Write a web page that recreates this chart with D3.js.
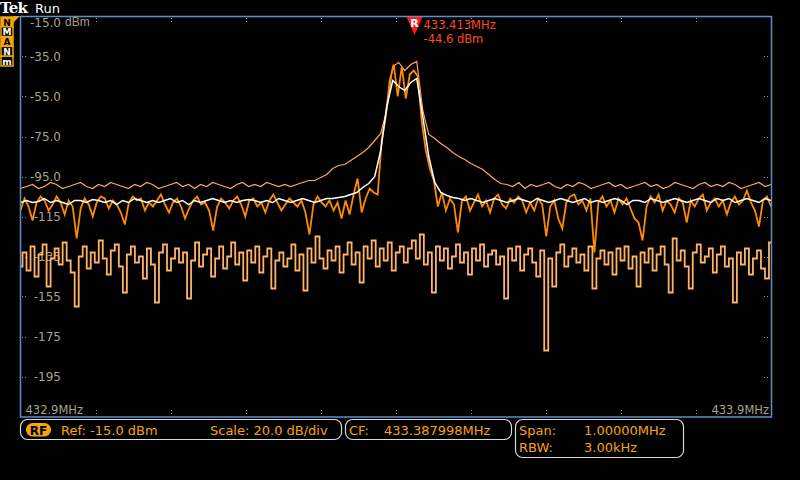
<!DOCTYPE html>
<html lang="en">
<head>
  <meta charset="UTF-8">
  <title>Tek RF spectrum</title>
  <style>
    body { margin: 0; background: #000; }
    svg { display: block; font-family: "DejaVu Sans", sans-serif; }
  </style>
</head>
<body>
  <div id="scope"></div>
  <script src="https://d3js.org/d3.v7.min.js"></script>
  <script>

    // span settings
    const fStart = 432.887998,
          fStop = 433.887998,
          refLevel = -15,
          bottomLevel = -215;

    const yTicks = [-15, -35, -55, -75, -95, -115, -135, -155, -175, -195];
    const yTickLabels = ["-15.0", "-35.0", "-55.0", "-75.0", "-95.0", "-115", "-135", "-155", "-175", "-195"];
    const freqLabels = ["432.9MHz", "433.9MHz"];

    // marker R
    const markerFreq = 433.413,
          markerLevel = -44.6;

    // traces (dBm), evenly spread across the span
    const normalTrace = [
      -112,-106,-110,-117,-108,-105,-107,-112,-109,-105,
      -108,-114,-107,-110,-126,-111,-106,-109,-115,-108,
      -105,-106,-111,-107,-109,-113,-119,-108,-105,-107,
      -106,-112,-108,-110,-107,-104,-109,-113,-108,-106,
      -110,-116,-111,-107,-105,-109,-108,-112,-122,-110,
      -106,-108,-111,-107,-105,-109,-115,-107,-106,-110,
      -108,-113,-107,-104,-108,-112,-109,-106,-108,-110,
      -107,-113,-124,-109,-105,-108,-110,-107,-112,-108,
      -116,-107,-114,-104,-96,-113,-106,-101,-103,-104,
      -77,-65,-47,-39,-55,-40,-56,-44,-42,-45,
      -68,-82,-91,-97,-110,-103,-112,-106,-109,-123,
      -107,-105,-112,-108,-104,-110,-107,-113,-106,-104,
      -109,-111,-106,-108,-105,-107,-113,-108,-112,-106,
      -109,-125,-110,-107,-116,-121,-108,-105,-104,-109,
      -107,-112,-106,-133,-108,-105,-110,-107,-113,-106,
      -109,-106,-111,-116,-118,-127,-110,-105,-108,-104,
      -112,-107,-109,-113,-106,-108,-118,-107,-110,-106,
      -104,-112,-108,-106,-110,-107,-114,-108,-105,-109,
      -107,-102,-108,-112,-120,-107,-105,-110
    ];

    const maxHold = [
      -101,-100,-99,-101,-100,-98,-99,-101,-100,-99,
      -98,-100,-101,-99,-100,-98,-99,-100,-101,-99,
      -100,-98,-99,-101,-100,-99,-98,-100,-99,-101,
      -99,-100,-98,-99,-100,-101,-99,-98,-100,-99,
      -100,-98,-99,-100,-99,-100,
      -99,-98,-97,-97,-95.5,-94,-91,-89.5,-89,-87,
      -85,-83,-80.5,-77,-73.5,-62,-40,-38,-42,-39,
      -37.5,-62,-74,-76,-78.5,-80.5,-83,-85,-86.5,-88.5,
      -90,-91.5,-94,-96.5,-98.5,
      -99,-100,-98,-101,-99,-100,-99,-98,-100,-101,
      -99,-100,-98,-99,-101,-100,-99,-98,-100,-99,
      -101,-100,-99,-98,-100,-99,-101,-100,-98,-99,
      -100,-101,-99,-98,-100,-99,-100,-98,-99,-101,
      -100,-99,-98,-100,-99
    ];

    const average = [
      -108,-107,-108,-107.5,-106,-108,-107,-108,-109,-107,
      -107,-108,-106.5,-107,-108,-107,-109,-107,-108,-106,
      -107,-108,-107,-108,-107,-106,-108,-107,-109,-107,
      -108,-107,-106,-107,-108,-107,-108,-107,-106.5,-107,
      -108,-107,-108,-106,-107,-108,-107,-106,-107,-108,
      -107,-106,-106,-105.5,-105,-104,
      -103,-100.5,-98.5,-95,-82,-60,-47,-50,-52,-48,
      -46,-65,-85,-98,-103,-104.5,-105.5,
      -106,-107,-106,-107,-108,-107,-106,-107,-108,-107,
      -106,-107,-108,-106,-107,-108,-107,-106,-107,-108,
      -107,-106,-108,-107,-108,-107,-106,-107,-109,-107,
      -107,-108,-106,-107,-108,-107,-106,-107,-108,-107,
      -106,-107,-108,-106,-107,-106,-108,-107,-106,-107,
      -108,-106,-107
    ];

    const minHold = [
      -140,-133,-142,-130,-145,-134,-129,-150,-136,-131,
      -139,-128,-137,-143,-160,-135,-130,-141,-133,-138,
      -127,-136,-144,-132,-129,-140,-153,-134,-130,-138,
      -135,-146,-131,-139,-158,-133,-129,-142,-136,-131,
      -138,-133,-156,-137,-128,-140,-134,-131,-145,-136,
      -130,-141,-135,-128,-139,-133,-147,-132,-138,-130,
      -143,-135,-131,-151,-137,-133,-140,-136,-129,-142,
      -134,-152,-131,-138,-125,-136,-141,-132,-137,-130,
      -143,-134,-128,-139,-133,-148,-130,-136,-127,-140,
      -131,-137,-128,-142,-133,-130,-138,-131,-127,-136,
      -124,-139,-133,-153,-130,-137,-131,-141,-135,-129,
      -138,-133,-144,-131,-137,-129,-140,-134,-132,-139,
      -135,-156,-131,-137,-130,-142,-134,-131,-138,-145,
      -132,-182,-136,-150,-133,-129,-140,-135,-131,-138,
      -134,-142,-130,-151,-136,-132,-139,-133,-144,-131,
      -137,-130,-141,-135,-150,-133,-138,-131,-142,-134,
      -130,-139,-153,-126,-137,-132,-140,-151,-133,-129,
      -138,-135,-131,-143,-134,-130,-140,-136,-158,-133,
      -139,-131,-144,-136,-132,-141,-146,-128
    ];

    const width = 800,
          height = 480;

    const amber = "#f5a40a",
          labelGrey = "#a8a28a",
          frameBlue = "#5d8fcb";

    const svg = d3.select("#scope")
      .append("svg")
      .attr("width", width)
      .attr("height", height)
      .attr("viewBox", [0, 0, width, height]);

    svg.append("rect").attr("width", width).attr("height", height).attr("fill", "#000");

    const x = d3.scaleLinear([fStart, fStop], [20.5, 771]);
    const y = d3.scaleLinear([bottomLevel, refLevel], [416.5, 16.5]);

    // graticule edge marks
    const xDivs = d3.range(1, 10).map(k => fStart + k * (fStop - fStart) / 10);
    const grat = svg.append("g")
      .attr("stroke", "#9a9a9a")
      .attr("stroke-width", 1)
      .attr("stroke-dasharray", "1,2");

    grat.selectAll(".top")
      .data(xDivs)
      .join("line")
      .attr("x1", d => Math.round(x(d)) + 0.5)
      .attr("x2", d => Math.round(x(d)) + 0.5)
      .attr("y1", 18)
      .attr("y2", 23);

    grat.selectAll(".bot")
      .data(xDivs)
      .join("line")
      .attr("x1", d => Math.round(x(d)) + 0.5)
      .attr("x2", d => Math.round(x(d)) + 0.5)
      .attr("y1", 410)
      .attr("y2", 415);

    grat.selectAll(".lft")
      .data(yTicks.slice(1))
      .join("line")
      .attr("x1", 22)
      .attr("x2", 26)
      .attr("y1", d => Math.round(y(d)) + 0.5)
      .attr("y2", d => Math.round(y(d)) + 0.5);

    grat.selectAll(".rgt")
      .data(yTicks.slice(1))
      .join("line")
      .attr("x1", 764)
      .attr("x2", 770)
      .attr("y1", d => Math.round(y(d)) + 0.5)
      .attr("y2", d => Math.round(y(d)) + 0.5);

    // level labels
    const yAxis = svg.append("g")
      .attr("transform", "translate(61,0)")
      .call(d3.axisLeft(y).tickValues(yTicks).tickFormat((d, i) => yTickLabels[i]).tickSize(0).tickPadding(0));
    yAxis.select(".domain").remove();
    yAxis.selectAll("text")
      .attr("fill", labelGrey)
      .style("font-size", "12px")
      .style("font-family", "'DejaVu Sans', sans-serif");
    yAxis.select(".tick text")
      .attr("y", 6);
    yAxis.append("text")
      .attr("x", 4)
      .attr("y", y(refLevel) + 6)
      .attr("dy", "0.32em")
      .attr("fill", labelGrey)
      .style("font-size", "12px")
      .attr("text-anchor", "start")
      .text("dBm");

    // frequency labels at the ends
    svg.append("text")
      .attr("x", x.range()[0] + 5)
      .attr("y", 414)
      .attr("fill", labelGrey)
      .style("font-size", "11.5px")
      .text(freqLabels[0]);
    svg.append("text")
      .attr("x", x.range()[1] - 2)
      .attr("y", 414)
      .attr("text-anchor", "end")
      .attr("fill", labelGrey)
      .style("font-size", "11.5px")
      .text(freqLabels[1]);

    // traces
    const traceLine = (n, curve) => d3.line()
      .curve(curve || d3.curveLinear)
      .x((d, i) => x(fStart + i * (fStop - fStart) / (n - 1)))
      .y(d => y(d));

    const plot = svg.append("g");

    plot.append("path")
      .datum(minHold)
      .attr("fill", "none")
      .attr("stroke", "#ffb366")
      .attr("stroke-width", 1.8)
      .attr("d", traceLine(minHold.length, d3.curveStep));

    plot.append("path")
      .datum(maxHold)
      .attr("fill", "none")
      .attr("stroke", "#ffa953")
      .attr("stroke-width", 1.2)
      .attr("d", traceLine(maxHold.length));

    plot.append("path")
      .datum(normalTrace)
      .attr("fill", "none")
      .attr("stroke", "#ff8a00")
      .attr("stroke-width", 1.8)
      .attr("d", traceLine(normalTrace.length));

    plot.append("path")
      .datum(average)
      .attr("fill", "none")
      .attr("stroke", "#ffffff")
      .attr("stroke-width", 1.5)
      .attr("d", traceLine(average.length));

    // frame
    svg.append("rect")
      .attr("x", 20.5)
      .attr("y", 16.5)
      .attr("width", 751)
      .attr("height", 400.5)
      .attr("fill", "none")
      .attr("stroke", frameBlue)
      .attr("stroke-width", 1.5);

    // marker R
    const mx = x(markerFreq);
    svg.append("path")
      .attr("d", `M${mx - 8},17 L${mx + 8},17 L${mx},35 Z`)
      .attr("fill", "#ff1a1a");
    svg.append("text")
      .attr("x", mx)
      .attr("y", 27)
      .attr("text-anchor", "middle")
      .attr("fill", "#fff")
      .style("font-size", "11px")
      .style("font-weight", "bold")
      .text("R");
    svg.append("text")
      .attr("x", mx + 9)
      .attr("y", 29)
      .attr("fill", "#ff4a22")
      .style("font-size", "11.5px")
      .text(markerFreq.toFixed(3) + "MHz");
    svg.append("text")
      .attr("x", mx + 9)
      .attr("y", 43)
      .attr("fill", "#ff4a22")
      .style("font-size", "11.5px")
      .text(markerLevel.toFixed(1) + " dBm");

    // header
    svg.append("text")
      .attr("x", 0)
      .attr("y", 13)
      .attr("fill", "#fff")
      .style("font-family", "'DejaVu Serif', serif")
      .style("font-weight", "bold")
      .style("font-size", "15px")
      .style("letter-spacing", "-0.8px")
      .text("Tek");
    svg.append("text")
      .attr("x", 35)
      .attr("y", 13)
      .attr("fill", "#fff")
      .style("font-size", "13px")
      .text("Run");

    // acquisition mode strip
    const modes = [
      {t: "N", on: true},
      {t: "M", on: false},
      {t: "A", on: true},
      {t: "N", on: false},
      {t: "m", on: false}
    ];
    const rowH = 9.8;
    const strip = svg.append("g");
    strip.append("path")
      .attr("d", "M13,16 L20,16 L13,23 Z")
      .attr("fill", amber);
    strip.selectAll("rect")
      .data(modes)
      .join("rect")
      .attr("x", 1)
      .attr("y", (d, i) => 17 + i * rowH)
      .attr("width", 12)
      .attr("height", rowH)
      .attr("fill", d => d.on ? amber : "#000")
      .attr("stroke", amber)
      .attr("stroke-width", 1.5);
    strip.selectAll("text")
      .data(modes)
      .join("text")
      .attr("x", 7)
      .attr("y", (d, i) => 25.6 + i * rowH)
      .attr("text-anchor", "middle")
      .attr("fill", d => d.on ? "#000" : "#fff")
      .style("font-size", "9px")
      .style("font-weight", "bold")
      .text(d => d.t);

    // status bar
    const bar = svg.append("g");
    bar.append("rect")
      .attr("x", 20.5).attr("y", 419.5).attr("width", 321).attr("height", 20)
      .attr("rx", 7).attr("fill", "none").attr("stroke", "#d8d8d8").attr("stroke-width", 1.2);
    bar.append("rect")
      .attr("x", 345.5).attr("y", 419.5).attr("width", 166).attr("height", 20)
      .attr("rx", 7).attr("fill", "none").attr("stroke", "#d8d8d8").attr("stroke-width", 1.2);
    bar.append("rect")
      .attr("x", 515.5).attr("y", 419.5).attr("width", 168).attr("height", 38)
      .attr("rx", 7).attr("fill", "none").attr("stroke", "#d8d8d8").attr("stroke-width", 1.2);

    bar.append("rect")
      .attr("x", 26).attr("y", 423).attr("width", 25).attr("height", 13.5)
      .attr("rx", 6.5).attr("fill", amber);
    bar.append("text")
      .attr("x", 38.5).attr("y", 434.5)
      .attr("text-anchor", "middle")
      .attr("fill", "#000")
      .style("font-size", "12px")
      .style("font-weight", "bold")
      .text("RF");

    const status = [
      {x: 61, y: 435, t: "Ref: -15.0 dBm"},
      {x: 210, y: 435, t: "Scale: 20.0 dB/div"},
      {x: 349, y: 435, t: "CF:"},
      {x: 384, y: 435, t: "433.387998MHz"},
      {x: 519, y: 435, t: "Span:"},
      {x: 584, y: 435, t: "1.00000MHz"},
      {x: 519, y: 452, t: "RBW:"},
      {x: 584, y: 452, t: "3.00kHz"}
    ];
    bar.selectAll(".st")
      .data(status)
      .join("text")
      .attr("class", "st")
      .attr("x", d => d.x)
      .attr("y", d => d.y)
      .attr("fill", amber)
      .style("font-size", "13px")
      .text(d => d.t);

  </script>
</body>
</html>
